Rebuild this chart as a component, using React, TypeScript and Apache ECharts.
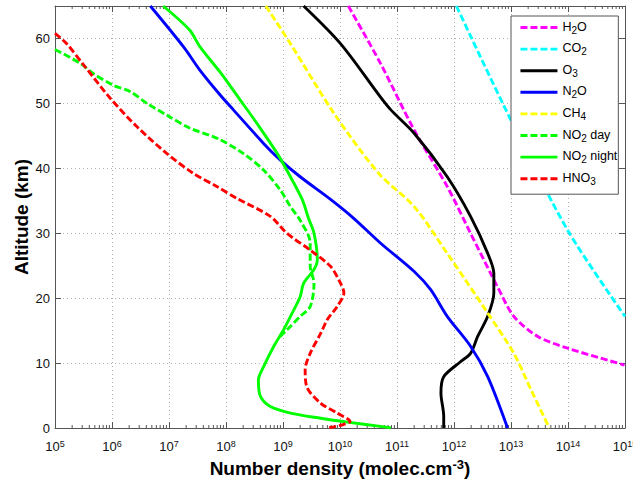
import React, { useEffect, useRef } from "react";
import * as echarts from "echarts";

// [number density (molec.cm-3), altitude (km)]
const h2o = [
  [1.4e10, 65], [5.1e10, 56.2], [2.0e11, 45.9], [7.6e11, 37.2], [1.95e12, 30],
  [4.4e12, 23.8], [5.75e12, 21.8], [1.12e13, 17.2], [2.95e13, 14.1], [9.8e13, 12.3], [9.8e14, 9.7],
];
const co2 = [
  [1.1e12, 65], [1.0e13, 47.4], [9.8e13, 30.5], [1.0e15, 17.2],
];
const o3 = [
  [2.3e9, 65], [1.02e10, 59.2], [5.1e10, 51.0], [7.8e10, 49.0], [2.0e11, 45.4], [7.6e11, 38.7],
  [1.95e12, 32.6], [3.9e12, 26.9], [5.0e12, 23.8], [5.0e12, 20.8], [3.9e12, 17.2], [2.6e12, 14.1],
  [1.95e12, 11.5], [1.3e12, 10.2], [6.6e11, 7.9], [5.9e11, 5.4], [6.6e11, 1.8], [6.6e11, 0],
];
const n2o = [
  [4.7e6, 65], [1.8e7, 58.7], [3.5e7, 55.1], [7.9e7, 51.3], [1.35e8, 49.0], [4.6e8, 43.8],
  [8.9e8, 41.3], [2.0e9, 38.7], [7.1e9, 35.1], [1.74e10, 32.3], [5.1e10, 28.5], [2.0e11, 24.1],
  [3.9e11, 21.3], [7.6e11, 17.2], [1.95e12, 12.6], [3.9e12, 7.9], [8.7e12, 0],
];
const ch4 = [
  [5.0e8, 65], [1.35e9, 59.2], [7.8e9, 48.5], [4.8e10, 39.2], [2.0e11, 34.1], [7.6e11, 26.9],
  [3.9e12, 17.7], [1.12e13, 11.5], [2.24e13, 5.9], [4.7e13, 0],
];
const no2Day = [
  [1.0e5, 58.3], [2.75e5, 56.2], [4.7e5, 54.6], [1.05e6, 52.8], [2.1e6, 51.8], [4.1e6, 50.0],
  [9.1e6, 48.2], [2.3e7, 46.2], [7.1e7, 44.6], [2.0e8, 42.3], [4.6e8, 39.7], [8.9e8, 36.7],
  [1.35e9, 34.1], [2.0e9, 32.0], [3.0e9, 28.5], [3.0e9, 24.9], [3.5e9, 22.3], [3.0e9, 18.7],
  [2.0e9, 17.2], [1.17e9, 15.1], [8.9e8, 14.1],
];
const no2Night = [
  [7.9e6, 65], [2.3e7, 61.3], [3.5e7, 58.7], [7.9e7, 54.8], [1.78e8, 50.5], [3.5e8, 46.9],
  [7.9e8, 42.3], [1.35e9, 38.7], [2.2e9, 35.1], [2.8e9, 32.3], [3.5e9, 30.0], [4.0e9, 25.9],
  [3.5e9, 24.4], [2.3e9, 22.3], [2.0e9, 20.2], [1.45e9, 17.7], [1.02e9, 15.1], [6.9e8, 12.6],
  [4.6e8, 9.5], [3.7e8, 7.4], [4.0e8, 4.9], [6.0e8, 3.3], [1.35e9, 2.3], [4.6e9, 1.5],
  [1.35e10, 0.9], [5.1e10, 0.25], [7.8e10, 0],
];
const hno3 = [
  [1.0e5, 60.8], [1.6e5, 59.2], [3.2e5, 55.9], [9.3e5, 50.8], [2.75e6, 46.4], [9.1e6, 42.3],
  [2.7e7, 39.2], [6.9e7, 37.2], [1.6e8, 35.3], [6.0e8, 32.6], [1.17e9, 30.0], [3.0e9, 27.4],
  [6.8e9, 24.9], [1.02e10, 22.3], [1.17e10, 20.8], [8.9e9, 18.7], [6.0e9, 16.7], [4.6e9, 14.6],
  [3.0e9, 11.5], [2.45e9, 9.0], [2.6e9, 6.4], [4.6e9, 3.8], [8.9e9, 2.3], [1.5e10, 1.0],
  [1.12e10, 0.5], [6.0e9, 0],
];

const seriesNames = ["H2O", "CO2", "O3", "N2O", "CH4", "NO2 day", "NO2 night", "HNO3"];
const seriesColors = ["#ff00ff", "#00ffff", "#000000", "#0000ff", "#ffff00", "#00ff00", "#00ff00", "#ff0000"];
const seriesDashed = [true, true, false, false, true, true, false, true];
const seriesData = [h2o, co2, o3, n2o, ch4, no2Day, no2Night, hno3];

const xMin = 1e5;
const xMax = 1e15;
const yMin = 0;
const yMax = 65;
const yInterval = 10;
const minorMantissas = [2, 3, 4, 5, 6, 7, 8, 9];
const decadeExponents = [5, 6, 7, 8, 9, 10, 11, 12, 13, 14];

const FONT = "Liberation Sans, Arial, Helvetica, sans-serif";
const AXIS_COLOR = "#555";

function legendLabel(name: string): string {
  const parts: string[] = [];
  let buf = "";
  for (const ch of name) {
    if (/[0-9]/.test(ch)) {
      if (buf) parts.push(`{n|${buf}}`);
      buf = "";
      parts.push(`{s|${ch}}`);
    } else buf += ch;
  }
  if (buf) parts.push(`{n|${buf}}`);
  return parts.join("");
}

export default function App() {
  const ref = useRef<HTMLDivElement>(null);
  useEffect(() => {
    document.body.style.margin = "0";
    const chart = echarts.init(ref.current!, undefined, { renderer: "svg" });
    const minorTicks: number[][] = [];
    decadeExponents.forEach((e) => minorMantissas.forEach((m) => minorTicks.push([m * Math.pow(10, e), 0])));

    const lineSeries = seriesNames.map((name, i) => ({
      name,
      type: "line",
      data: seriesData[i],
      showSymbol: false,
      symbol: "none",
      xAxisIndex: 0,
      yAxisIndex: 0,
      smooth: 0.3,
      lineStyle: {
        color: seriesColors[i],
        width: 2.9,
        type: seriesDashed[i] ? [7, 3] : "solid",
      },
      itemStyle: { color: seriesColors[i] },
      z: 3,
    }));

    const tickLabelRich = {
      b: { fontSize: 13, fontFamily: FONT, color: "#111", verticalAlign: "bottom", lineHeight: 14 },
      p: { fontSize: 9, fontFamily: FONT, color: "#111", verticalAlign: "top", lineHeight: 9, padding: [0, 0, 8, 0] },
    };

    const option: any = {
      animation: false,
      backgroundColor: "#fff",
      grid: { left: 55, right: 8, top: 6, bottom: 54, containLabel: false, outerBoundsMode: "none" },
      legend: {
        data: seriesNames,
        orient: "vertical",
        left: 511,
        top: 16,
        itemWidth: 37,
        itemHeight: 14,
        itemGap: 3.6,
        padding: [1, 1, 8, 8],
        borderColor: AXIS_COLOR,
        borderWidth: 1,
        borderRadius: 0,
        backgroundColor: "#fff",
        itemStyle: { opacity: 0 },
        lineStyle: { width: 2.9 },
        formatter: (name: string) => legendLabel(name),
        textStyle: {
          rich: {
            n: { fontSize: 12.5, fontFamily: FONT, color: "#000", verticalAlign: "top", lineHeight: 15 },
            s: { fontSize: 10, fontFamily: FONT, color: "#000", verticalAlign: "bottom", lineHeight: 10, padding: [8, 0, 0, 0] },
          },
        },
      },
      xAxis: [
        {
          type: "log",
          logBase: 10,
          min: xMin,
          max: xMax,
          splitNumber: 10,
          position: "bottom",
          name: "{b|Number density (molec.cm}{p|-3}{b|)}",
          nameLocation: "middle",
          nameGap: 30,
          nameMoveOverlap: false,
          nameTextStyle: {
            rich: {
              b: { fontSize: 19, fontWeight: "bold", fontFamily: FONT, color: "#000", verticalAlign: "bottom", lineHeight: 20 },
              p: { fontSize: 13, fontWeight: "bold", fontFamily: FONT, color: "#000", verticalAlign: "top", lineHeight: 13, padding: [0, 0, 9, 0] },
            },
          },
          axisLine: { show: true, lineStyle: { color: AXIS_COLOR, width: 1 } },
          axisTick: { show: true, inside: true, length: 6, lineStyle: { color: AXIS_COLOR } },
          axisLabel: {
            margin: 11,
            formatter: (v: number) => `{b|10}{p|${Math.round(Math.log10(v))}}`,
            rich: tickLabelRich,
            showMinLabel: true,
            showMaxLabel: true,
          },
          splitLine: { show: true, lineStyle: { color: "#b0b0b0", type: [1, 3], width: 1 } },
        },
        {
          type: "log",
          logBase: 10,
          min: xMin,
          max: xMax,
          splitNumber: 10,
          position: "top",
          axisLine: { show: true, onZero: false, lineStyle: { color: AXIS_COLOR, width: 1 } },
          axisTick: { show: true, inside: true, length: 6, lineStyle: { color: AXIS_COLOR } },
          axisLabel: { show: false },
          splitLine: { show: false },
        },
      ],
      yAxis: [
        {
          type: "value",
          min: yMin,
          max: yMax,
          interval: yInterval,
          position: "left",
          name: "Altitude (km)",
          nameLocation: "middle",
          nameGap: 24,
          nameMoveOverlap: false,
          nameTextStyle: { fontSize: 19, fontWeight: "bold", fontFamily: FONT, color: "#000" },
          axisLine: { show: true, lineStyle: { color: AXIS_COLOR, width: 1 } },
          axisTick: { show: true, inside: true, length: 6, lineStyle: { color: AXIS_COLOR } },
          axisLabel: {
            margin: 5,
            fontSize: 13,
            fontFamily: FONT,
            color: "#111",
            formatter: (v: number) => (v > 60 ? "" : String(v)),
          },
          splitLine: { show: true, lineStyle: { color: "#b0b0b0", type: [1, 3], width: 1 } },
        },
        {
          type: "value",
          min: yMin,
          max: yMax,
          interval: yInterval,
          position: "right",
          axisLine: { show: true, onZero: false, lineStyle: { color: AXIS_COLOR, width: 1 } },
          axisTick: { show: true, inside: true, length: 6, lineStyle: { color: AXIS_COLOR } },
          axisLabel: { show: false },
          splitLine: { show: false },
        },
      ],
      series: [
        {
          name: "minorTicks",
          type: "custom",
          xAxisIndex: 0,
          yAxisIndex: 0,
          silent: true,
          z: 1,
          data: minorTicks,
          renderItem: (_params: any, api: any) => {
            const v = api.value(0);
            const pb = api.coord([v, yMin]);
            const pt = api.coord([v, yMax]);
            return {
              type: "group",
              children: [
                { type: "line", shape: { x1: pb[0], y1: pb[1], x2: pb[0], y2: pb[1] - 3 }, style: { stroke: AXIS_COLOR, lineWidth: 1 } },
                { type: "line", shape: { x1: pt[0], y1: pt[1], x2: pt[0], y2: pt[1] + 3 }, style: { stroke: AXIS_COLOR, lineWidth: 1 } },
              ],
            };
          },
        },
        ...lineSeries,
      ],
    };
    chart.setOption(option);
    return () => chart.dispose();
  }, []);
  return <div ref={ref} style={{ position: "fixed", left: 0, top: 0, width: 633, height: 482 }} />;
}
